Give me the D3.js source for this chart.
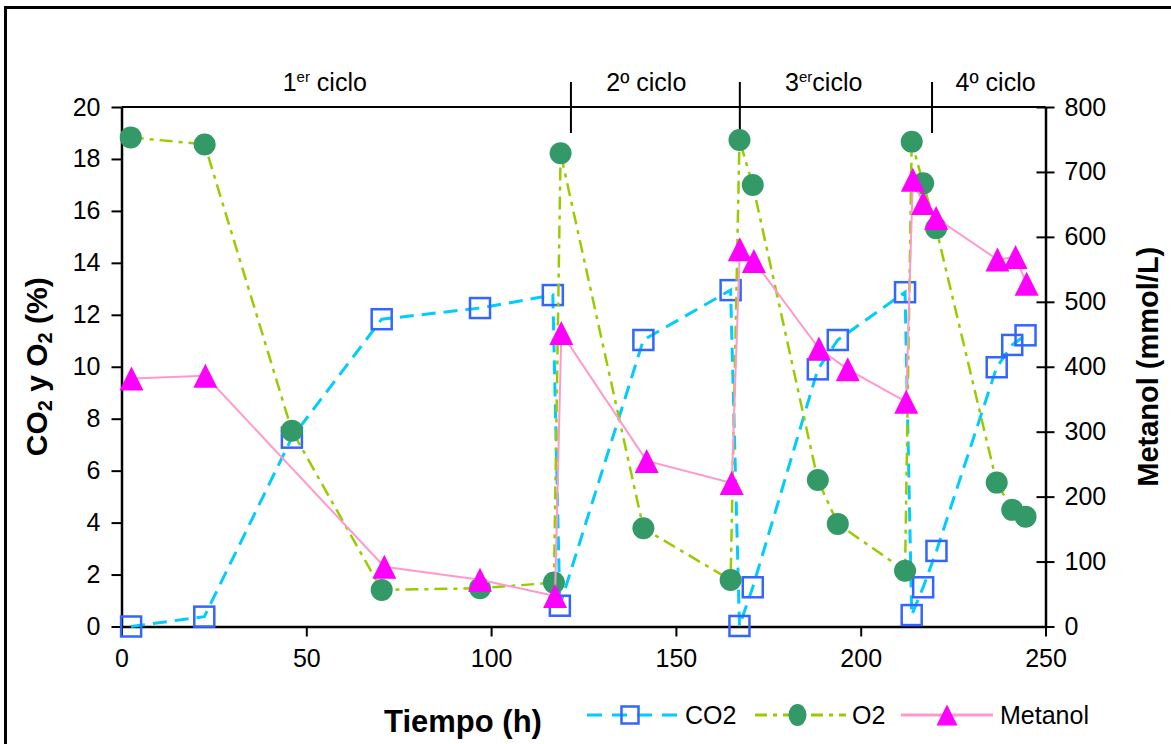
<!DOCTYPE html>
<html>
<head>
<meta charset="utf-8">
<script src="https://cdn.jsdelivr.net/npm/d3@7"></script>
<style>
  html, body { margin: 0; padding: 0; background: #fff; }
  svg { display: block; font-family: "Liberation Sans", Arial, sans-serif; }
</style>
</head>
<body>
<svg id="chart" width="1171" height="744"></svg>
<script>
// ---------- data ----------
const timeCO2 = [2.6, 22.4, 46.1, 70.4, 97.0, 116.7, 118.6, 141.2, 164.8, 167.2, 170.8, 188.4, 193.8, 212.0, 213.8, 216.9, 220.5, 236.8, 241.0, 244.6];
const co2     = [0.0, 0.38, 7.27, 11.83, 12.26, 12.76, 0.80, 11.03, 12.95, 0.02, 1.51, 9.90, 11.03, 12.87, 0.44, 1.51, 2.91, 9.98, 10.84, 11.21];

const timeO2  = [2.5, 22.5, 46.1, 70.4, 97.0, 117.0, 118.8, 141.2, 164.8, 167.2, 170.8, 188.4, 193.8, 212.0, 213.8, 216.9, 220.4, 236.8, 241.0, 244.6];
const o2      = [18.83, 18.56, 7.54, 1.41, 1.47, 1.69, 18.22, 3.78, 1.79, 18.73, 17.0, 5.64, 3.95, 2.15, 18.66, 17.06, 15.33, 5.54, 4.49, 4.23];

const timeMet = [2.7, 22.7, 71.1, 97.0, 117.3, 119.0, 142.1, 165.1, 167.3, 171.1, 188.7, 196.5, 212.3, 214.1, 216.9, 220.4, 237.0, 241.9, 244.9];
const metanol = [382, 386, 92, 72, 47, 452, 255, 221, 581, 563, 428, 396, 346, 688, 652, 629, 565, 569, 528];

const xTicks = [0, 50, 100, 150, 200, 250];
const yLeftTicks = [0, 2, 4, 6, 8, 10, 12, 14, 16, 18, 20];
const yRightTicks = [0, 100, 200, 300, 400, 500, 600, 700, 800];

const cycleDividers = [121.6, 167.3, 219.3];
const cycleNums = ["1", "2", "3", "4"];
const cycleSups = ["er", "º", "er", "º"];
const cycleRest = [" ciclo", " ciclo", "ciclo", " ciclo"];
const cycleCenters = [55, 142, 190, 236.5];

const seriesNames = ["CO2", "O2", "Metanol"];

// ---------- layout ----------
const svg = d3.select("#chart");
const L = 121.5, R = 1045.5, T = 107, B = 626.5;

const x = d3.scaleLinear().domain([0, 250]).range([L, R]);
const yL = d3.scaleLinear().domain([0, 20]).range([B, T]);
const yR = d3.scaleLinear().domain([0, 800]).range([B, T]);

// outer frame
svg.append("rect").attr("x", 5.5).attr("y", 7.5).attr("width", 1200).attr("height", 800)
  .attr("fill", "none").attr("stroke", "#000").attr("stroke-width", 3);

// top line of plot area
svg.append("line").attr("x1", L).attr("x2", R).attr("y1", T).attr("y2", T)
  .attr("stroke", "#000").attr("stroke-width", 2);

// cycle dividers
svg.selectAll(".div").data(cycleDividers).enter().append("line")
  .attr("x1", d => x(d)).attr("x2", d => x(d))
  .attr("y1", T - 25).attr("y2", T + 26)
  .attr("stroke", "#000").attr("stroke-width", 2);

// cycle labels
const cl = svg.selectAll(".cyc").data(cycleCenters).enter().append("text")
  .attr("x", d => x(d)).attr("y", T - 16)
  .attr("text-anchor", "middle").attr("font-size", 25).attr("fill", "#000");
cl.append("tspan").text((d, i) => cycleNums[i]);
cl.append("tspan").text((d, i) => cycleSups[i])
  .attr("font-size", (d, i) => cycleSups[i] === "º" ? 25 : 15)
  .attr("dy", (d, i) => cycleSups[i] === "º" ? 0 : -9);
cl.append("tspan").attr("dy", (d, i) => cycleSups[i] === "º" ? 0 : 9).text((d, i) => cycleRest[i]);

// axes
const axisStyle = g => {
  g.selectAll("path.domain").attr("stroke", "#000").attr("stroke-width", 2.5);
  g.selectAll(".tick line").attr("stroke", "#000").attr("stroke-width", 2);
  g.selectAll("text").attr("font-size", 25).attr("fill", "#000")
    .attr("font-family", "Liberation Sans, Arial, sans-serif");
};

svg.append("g").attr("transform", `translate(0,${B})`)
  .call(d3.axisBottom(x).tickValues(xTicks).tickSizeInner(10).tickSizeOuter(0).tickPadding(13))
  .call(axisStyle);

svg.append("g").attr("transform", `translate(${L},0)`)
  .call(d3.axisLeft(yL).tickValues(yLeftTicks).tickSizeInner(10).tickSizeOuter(0).tickPadding(11))
  .call(axisStyle);

const gR = svg.append("g").attr("transform", `translate(${R},0)`)
  .call(d3.axisRight(yR).tickValues(yRightTicks).tickSizeInner(9).tickSizeOuter(0).tickPadding(10))
  .call(axisStyle);
gR.selectAll(".tick line").attr("x1", -9);

// axis titles
svg.append("text").attr("transform", `translate(47,${(T + B) / 2}) rotate(-90)`)
  .attr("text-anchor", "middle").attr("font-size", 30).attr("font-weight", "bold")
  .html('CO<tspan font-size="20" dy="5">2</tspan><tspan dy="-5"> y O</tspan><tspan font-size="20" dy="5">2</tspan><tspan dy="-5"> (%)</tspan>');

svg.append("text").attr("transform", `translate(1158,${(T + B) / 2}) rotate(-90)`)
  .attr("text-anchor", "middle").attr("font-size", 29).attr("font-weight", "bold")
  .text("Metanol (mmol/L)");

svg.append("text").attr("x", 463).attr("y", 732)
  .attr("text-anchor", "middle").attr("font-size", 31).attr("font-weight", "bold")
  .text("Tiempo (h)");

// ---------- series ----------
const co2Data = timeCO2.map((t, i) => [t, co2[i]]);
const o2Data = timeO2.map((t, i) => [t, o2[i]]);
const metData = timeMet.map((t, i) => [t, metanol[i]]);

const colCO2Line = "#00CCFF", colCO2Mark = "#3366FF";
const colO2Line = "#99CC00", colO2Mark = "#339966";
const colMetLine = "#FF99CC", colMetMark = "#FF00FF";

const lineL = d3.line().x(d => x(d[0])).y(d => yL(d[1]));
const lineR = d3.line().x(d => x(d[0])).y(d => yR(d[1]));

const tri = s => `M0,${-s / 2}L${s / 2},${s / 2}L${-s / 2},${s / 2}Z`;

// CO2
svg.append("path").datum(co2Data).attr("d", lineL).attr("fill", "none")
  .attr("stroke", colCO2Line).attr("stroke-width", 3).attr("stroke-dasharray", "14,8");
svg.selectAll(".sq").data(co2Data).enter().append("rect")
  .attr("x", d => x(d[0]) - 10).attr("y", d => yL(d[1]) - 10)
  .attr("width", 20).attr("height", 20)
  .attr("fill", "none").attr("stroke", colCO2Mark).attr("stroke-width", 2.5);

// O2
svg.append("path").datum(o2Data).attr("d", lineL).attr("fill", "none")
  .attr("stroke", colO2Line).attr("stroke-width", 2.5).attr("stroke-dasharray", "13,6,4,6");
svg.selectAll(".ci").data(o2Data).enter().append("circle")
  .attr("cx", d => x(d[0])).attr("cy", d => yL(d[1])).attr("r", 11)
  .attr("fill", colO2Mark);

// Metanol
svg.append("path").datum(metData).attr("d", lineR).attr("fill", "none")
  .attr("stroke", colMetLine).attr("stroke-width", 2);
svg.selectAll(".tr").data(metData).enter().append("path")
  .attr("transform", d => `translate(${x(d[0])},${yR(d[1])})`)
  .attr("d", tri(24)).attr("fill", colMetMark);

// ---------- legend ----------
const legY = 715;
const leg = svg.append("g");
// CO2
leg.append("line").attr("x1", 587).attr("x2", 677).attr("y1", legY).attr("y2", legY)
  .attr("stroke", colCO2Line).attr("stroke-width", 3).attr("stroke-dasharray", "15,10");
leg.append("rect").attr("x", 621.5).attr("y", legY - 8.5).attr("width", 17).attr("height", 17)
  .attr("fill", "none").attr("stroke", colCO2Mark).attr("stroke-width", 2.5);
leg.append("text").attr("x", 685).attr("y", legY + 9).attr("font-size", 25).text(seriesNames[0]);
// O2
leg.append("line").attr("x1", 755).attr("x2", 846).attr("y1", legY).attr("y2", legY)
  .attr("stroke", colO2Line).attr("stroke-width", 3).attr("stroke-dasharray", "12,6,4,6");
leg.append("ellipse").attr("cx", 797.5).attr("cy", legY).attr("rx", 9).attr("ry", 11).attr("fill", colO2Mark);
leg.append("text").attr("x", 852).attr("y", legY + 9).attr("font-size", 25).text(seriesNames[1]);
// Metanol
leg.append("line").attr("x1", 901).attr("x2", 993).attr("y1", legY).attr("y2", legY)
  .attr("stroke", colMetLine).attr("stroke-width", 3);
leg.append("path").attr("transform", `translate(947,${legY})`).attr("d", tri(21)).attr("fill", colMetMark);
leg.append("text").attr("x", 1000).attr("y", legY + 9).attr("font-size", 25).text(seriesNames[2]);
</script>
</body>
</html>
